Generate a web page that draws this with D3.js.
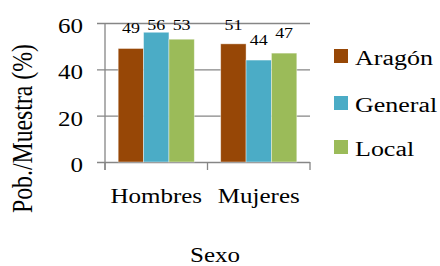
<!DOCTYPE html>
<html><head><meta charset="utf-8">
<script src="https://cdn.jsdelivr.net/npm/d3@7"></script>
<style>body{margin:0;background:#fff}svg{display:block}text{font-family:"Liberation Serif","Times New Roman","DejaVu Serif",serif;fill:#000}</style>
</head><body>
<script>
const categories = ["Hombres", "Mujeres"];
const seriesNames = ["Aragón", "General", "Local"];
const aragon = [49, 51];
const general = [56, 44];
const local = [53, 47];
const yTicks = [0, 20, 40, 60];
const colors = ["#974706", "#4BACC6", "#9BBB59"];
const seriesValues = [aragon, general, local];

const W = 440, H = 266;
const SY = 0.82; // vertical squash of the reference text
const FONT = "Liberation Serif, Times New Roman, serif";
const svg = d3.select("body").append("svg").attr("width", W).attr("height", H);
const pLeft = 105, pRight = 310, pTop = 23, pBottom = 162;

const x = d3.scaleBand().domain(categories).range([pLeft, pRight]).paddingInner(0).paddingOuter(0);
const xs = d3.scaleBand().domain(seriesNames).range([0, x.bandwidth()]).paddingOuter(0.52).paddingInner(0);
const y = d3.scaleLinear().domain([0, 60]).range([pBottom, pTop]);
const grey = "#868686";

function txt(g, tx, ty, size, anchor, str, rot) {
  return g.append("text")
    .attr("transform", `translate(${tx},${ty}) scale(1,${SY})` + (rot ? ` rotate(${rot})` : ""))
    .attr("font-family", FONT).attr("font-size", size).attr("text-anchor", anchor).text(str);
}

// gridlines + y ticks
const yAxis = d3.axisLeft(y).tickValues(yTicks).tickSize(-(pRight - pLeft)).tickSizeOuter(0).tickFormat(d3.format("d"));
const gy = svg.append("g").attr("transform", `translate(${pLeft},0)`).call(yAxis);
gy.select(".domain").remove();
gy.selectAll(".tick line").attr("stroke", grey).attr("stroke-width", 1.3).attr("x1", -8);
gy.selectAll(".tick text")
  .attr("x", null).attr("dy", null)
  .attr("transform", `translate(-22,9.5) scale(1,${SY})`)
  .attr("font-size", 25).attr("font-family", FONT).attr("fill", "#000").attr("text-anchor", "end");

// y axis line
svg.append("line").attr("x1", pLeft).attr("x2", pLeft).attr("y1", pTop).attr("y2", pBottom + 8).attr("stroke", grey).attr("stroke-width", 1.3);
// category tick marks
const catEdges = [pLeft, ...categories.map(c => x(c) + x.bandwidth())];
svg.selectAll(".ctick").data(catEdges).enter().append("line")
  .attr("x1", d => d).attr("x2", d => d).attr("y1", pBottom).attr("y2", pBottom + 8)
  .attr("stroke", grey).attr("stroke-width", 1.3);

// bars
const data = [];
categories.forEach((c, i) => seriesNames.forEach((s, j) => data.push({c, s, v: seriesValues[j][i], j})));
svg.selectAll(".bar").data(data).enter().append("rect")
  .attr("x", d => x(d.c) + xs(d.s))
  .attr("y", d => y(d.v))
  .attr("width", xs.bandwidth())
  .attr("height", d => pBottom - y(d.v))
  .attr("fill", d => colors[d.j])
  .attr("stroke", "#ffffff").attr("stroke-opacity", 0.5).attr("stroke-width", 0.8);

// value labels
data.forEach(d => {
  txt(svg, x(d.c) + xs(d.s) + xs.bandwidth() / 2, Math.max(y(d.v) - 15, 30), 18, "middle", d.v);
});

// category labels
categories.forEach(c => txt(svg, x(c) + x.bandwidth() / 2, 203, 25, "middle", c));

// axis titles
txt(svg, 215, 262, 25, "middle", "Sexo");
txt(svg, 32, 128.5, 29, "middle", "Pob./Muestra (%)", -90);

// legend
const legY = [49, 96, 140];
seriesNames.forEach((s, i) => {
  svg.append("rect").attr("x", 334).attr("y", legY[i]).attr("width", 14).attr("height", 14).attr("fill", colors[i]);
  txt(svg, 355, legY[i] + 16, 26, "start", s);
});
</script>
</body></html>
